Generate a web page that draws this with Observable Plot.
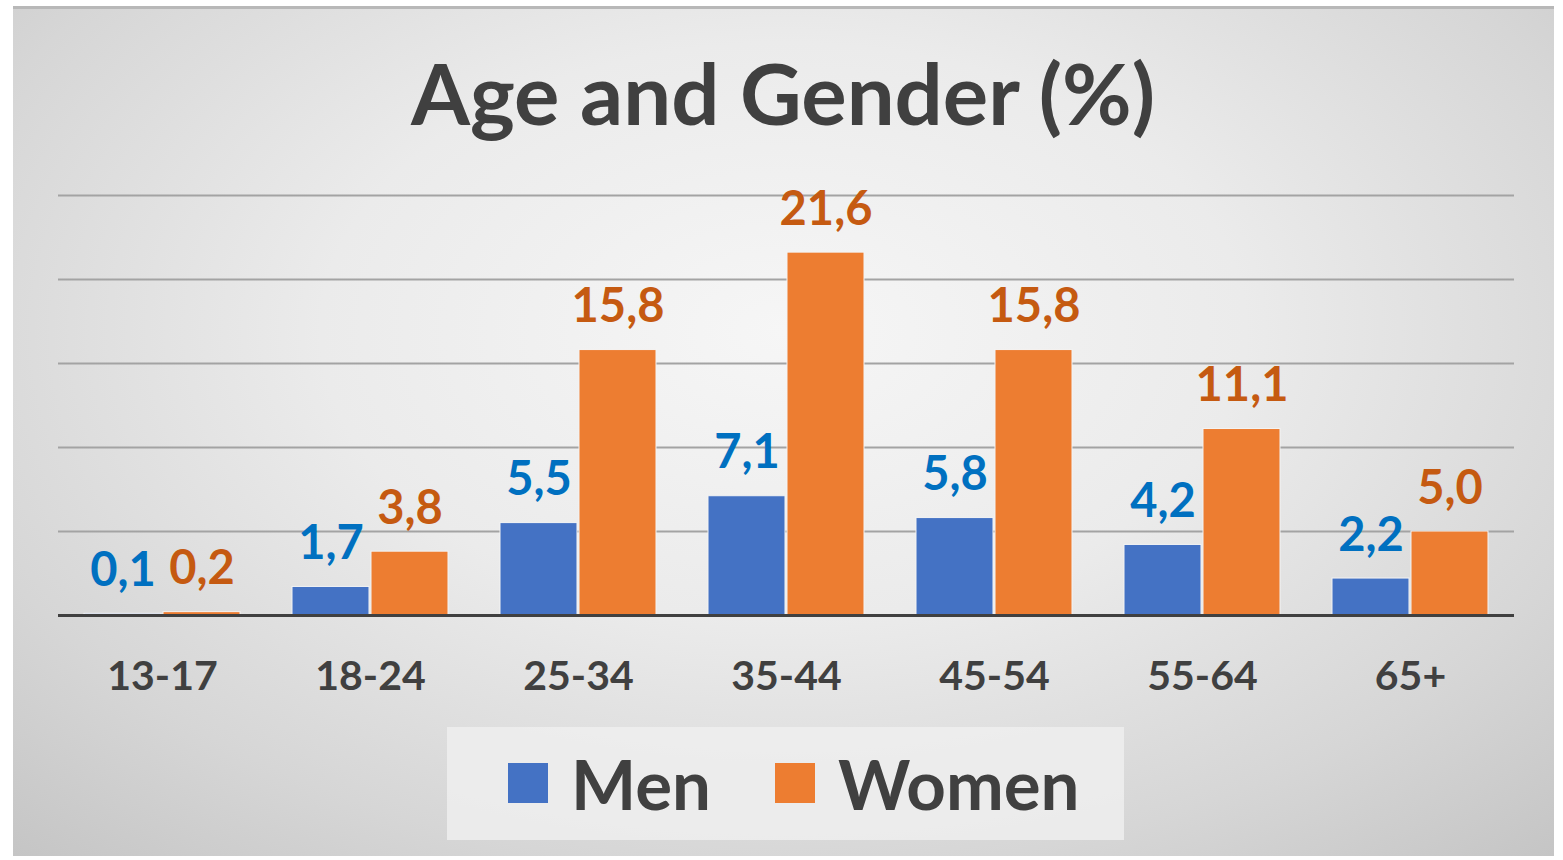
<!DOCTYPE html>
<html><head><meta charset="utf-8">
<script src="https://cdn.jsdelivr.net/npm/d3@7"></script>
<script src="https://cdn.jsdelivr.net/npm/@observablehq/plot@0.6"></script>
<style>
body{margin:0;background:#fff;width:1563px;height:860px;position:relative;overflow:hidden;font-family:Lato,sans-serif;}
#panel{position:absolute;left:13px;top:6px;width:1541px;height:850px;box-sizing:border-box;border-top:3px solid #b8b8b8;
 background:radial-gradient(ellipse 75% 85% at 50% 38%, #f6f6f6 0%, #ebebeb 40%, #d6d6d6 75%, #c4c4c4 100%);}
#title{position:absolute;left:0;width:1566px;top:50px;text-align:center;font-size:85px;font-weight:700;color:#404040;line-height:1;}
#chart{position:absolute;left:0;top:150px;}
#legend{position:absolute;left:447px;top:727px;width:677px;height:113px;background:rgba(238,238,238,0.85);}
.sw{position:absolute;top:36px;width:40px;height:40px;}
.lt{position:absolute;top:22px;font-size:69px;font-weight:700;color:#404040;line-height:1;}
</style></head>
<body>
<div id="panel"></div>
<div id="title">Age and Gender (%)</div>
<div id="chart"></div>
<div id="legend">
 <div class="sw" style="left:61px;background:#4472C4"></div><div class="lt" style="left:124px">Men</div>
 <div class="sw" style="left:328px;background:#ED7D31"></div><div class="lt" style="left:391px">Women</div>
</div>
<script>
const ages = ["13-17","18-24","25-34","35-44","45-54","55-64","65+"];
const men = [0.1,1.7,5.5,7.1,5.8,4.2,2.2];
const women = [0.2,3.8,15.8,21.6,15.8,11.1,5.0];
const series = ["Men","Women"];
const gridValues = [5,10,15,20,25];

const menRows = ages.map((a,i)=>({age:a,sex:"Men",value:men[i]}));
const womenRows = ages.map((a,i)=>({age:a,sex:"Women",value:women[i]}));
const fmt = v => v.toFixed(1).replace(".", ",");

const chart = Plot.plot({
  width:1563, height:560,
  marginLeft:56, marginRight:48, marginTop:45, marginBottom:95,
  style:{background:"transparent", overflow:"visible", fontFamily:"Lato, sans-serif"},
  fx:{domain:ages, padding:0, label:null},
  x:{domain:series, axis:null, paddingInner:0.03, paddingOuter:0.32},
  y:{domain:[0,25], axis:null},
  marks:[
    Plot.ruleY(gridValues,{stroke:"#a3a3a3",strokeWidth:2}),
    Plot.barY(menRows,{fx:"age",x:"sex",y:"value",fill:"#4472C4",stroke:"#f4f4f4",strokeWidth:1}),
    Plot.barY(womenRows,{fx:"age",x:"sex",y:"value",fill:"#ED7D31",stroke:"#f4f4f4",strokeWidth:1}),
    Plot.ruleY([0],{stroke:"#404040",strokeWidth:3}),
    Plot.text(menRows,{fx:"age",x:"sex",y:"value",text:d=>fmt(d.value),fill:"#0070C0",lineAnchor:"bottom",dy:-28,fontSize:47,fontWeight:"bold"}),
    Plot.text(womenRows,{fx:"age",x:"sex",y:"value",text:d=>fmt(d.value),fill:"#C55A11",lineAnchor:"bottom",dy:-28,fontSize:47,fontWeight:"bold"}),
    Plot.axisFx({anchor:"bottom",tickSize:0,tickPadding:45,fontSize:41,fontWeight:"bold",fill:"#404040",label:null})
  ]
});
document.getElementById("chart").appendChild(chart);
</script>
</body></html>
